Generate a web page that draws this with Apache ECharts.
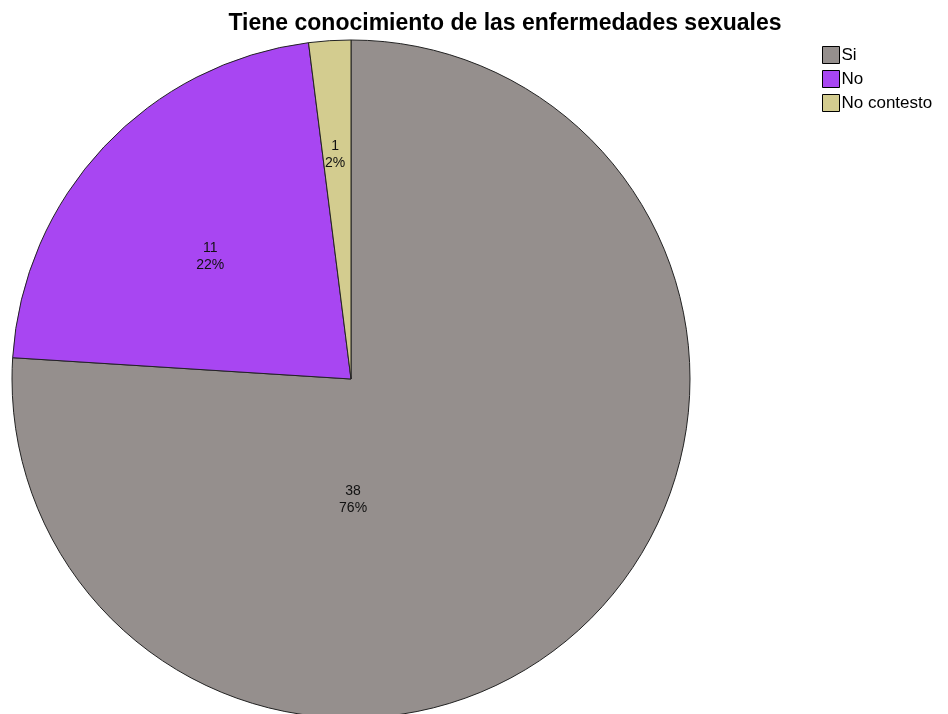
<!DOCTYPE html>
<html>
<head>
<meta charset="utf-8">
<script src="https://cdn.jsdelivr.net/npm/echarts@6/dist/echarts.min.js"></script>
<style>html,body{margin:0;padding:0;background:#fff}#chart{width:948px;height:714px}</style>
</head>
<body>
<div id="chart"></div>
<script>
const categories = ["Si", "No", "No contesto"];
const counts = [38, 11, 1];
const percents = [76, 22, 2];
const colors = ["#958f8d", "#a846f2", "#d3cc8f"];
// label nudges to mimic SPSS label placement
const labelShift = [[-116, -5], [-15, -4], [-5, -52]];

const chart = echarts.init(document.getElementById("chart"));
chart.setOption({
  animation: false,
  title: {
    text: "Tiene conocimiento de las enfermedades sexuales",
    left: 500, top: 7, textAlign: "center",
    textStyle: { fontFamily: "Liberation Sans", fontSize: 23, fontWeight: "bold", color: "#000" }
  },
  legend: {
    orient: "vertical", left: 817, top: 41,
    itemWidth: 17, itemHeight: 17, itemGap: 6,
    icon: "rect",
    itemStyle: { borderColor: "#000", borderWidth: 1 },
    textStyle: { fontFamily: "Liberation Sans", fontSize: 17, color: "#000", padding: [0, 0, 0, -3] },
    data: categories
  },
  series: [{
    type: "pie",
    center: [351, 379],
    radius: 339,
    startAngle: 90,
    clockwise: true,
    itemStyle: { borderColor: "#222", borderWidth: 1 },
    label: {
      position: "inside",
      fontFamily: "Liberation Sans", fontSize: 14, color: "#111", lineHeight: 17,
      formatter: p => counts[p.dataIndex] + "\n" + percents[p.dataIndex] + "%"
    },
    labelLayout: p => ({ dx: labelShift[p.dataIndex][0], dy: labelShift[p.dataIndex][1] }),
    data: categories.map((c, i) => ({ name: c, value: counts[i], itemStyle: { color: colors[i] } }))
  }]
});
</script>
</body>
</html>
